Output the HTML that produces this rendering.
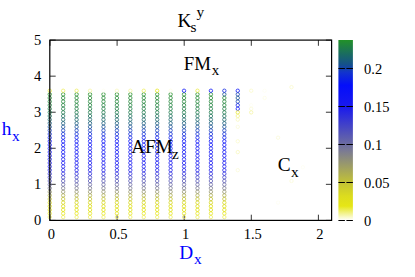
<!DOCTYPE html><html><head><meta charset="utf-8"><style>html,body{margin:0;padding:0;background:#fff}svg{display:block}</style></head><body><svg width="415" height="277" viewBox="0 0 415 277">
<defs><linearGradient id="cb" x1="0" y1="0" x2="0" y2="1"><stop offset="0.0000" stop-color="#229128"/><stop offset="0.1368" stop-color="#14508c"/><stop offset="0.1789" stop-color="#1234cd"/><stop offset="0.2505" stop-color="#040efa"/><stop offset="0.3684" stop-color="#1919ee"/><stop offset="0.6126" stop-color="#7a7a94"/><stop offset="0.7895" stop-color="#c2c236"/><stop offset="0.8653" stop-color="#dcdc1e"/><stop offset="0.9200" stop-color="#e6e616"/><stop offset="1.0000" stop-color="#ffffff"/></linearGradient></defs>
<rect width="415" height="277" fill="#fff"/>
<g stroke="#000" stroke-width="0.8" fill="none">
<path d="M50.00 220.40h5.7 M331.60 220.40h-5.7"/>
<path d="M50.00 184.34h5.7 M331.60 184.34h-5.7"/>
<path d="M50.00 148.28h5.7 M331.60 148.28h-5.7"/>
<path d="M50.00 112.22h5.7 M331.60 112.22h-5.7"/>
<path d="M50.00 76.16h5.7 M331.60 76.16h-5.7"/>
<path d="M50.00 40.10h5.7 M331.60 40.10h-5.7"/>
<path d="M50.00 220.40v-5.7 M50.00 40.10v5.7"/>
<path d="M117.10 220.40v-5.7 M117.10 40.10v5.7"/>
<path d="M184.20 220.40v-5.7 M184.20 40.10v5.7"/>
<path d="M251.30 220.40v-5.7 M251.30 40.10v5.7"/>
<path d="M318.40 220.40v-5.7 M318.40 40.10v5.7"/>
</g>
<g fill="none" stroke-width="0.75">
<circle cx="49.75" cy="217.09" r="1.70" stroke="#eded5e"/>
<circle cx="49.75" cy="213.48" r="1.70" stroke="#e5e51b"/>
<circle cx="49.75" cy="209.87" r="1.70" stroke="#e0e003"/>
<circle cx="49.75" cy="206.26" r="1.70" stroke="#dbdb0d"/>
<circle cx="49.75" cy="202.65" r="1.70" stroke="#d5d517"/>
<circle cx="49.75" cy="199.04" r="1.70" stroke="#c4c42b"/>
<circle cx="49.75" cy="195.43" r="1.70" stroke="#aeae48"/>
<circle cx="49.75" cy="191.82" r="1.70" stroke="#95956b"/>
<circle cx="49.75" cy="188.21" r="1.70" stroke="#7b7b8d"/>
<circle cx="49.75" cy="184.60" r="1.70" stroke="#6868a1"/>
<circle cx="49.75" cy="180.99" r="1.70" stroke="#5555b4"/>
<circle cx="49.75" cy="177.38" r="1.70" stroke="#4242c6"/>
<circle cx="49.75" cy="173.77" r="1.70" stroke="#2f2fd8"/>
<circle cx="49.75" cy="170.16" r="1.70" stroke="#1c1ceb"/>
<circle cx="49.75" cy="166.55" r="1.70" stroke="#1819ee"/>
<circle cx="49.75" cy="162.94" r="1.70" stroke="#1617f0"/>
<circle cx="49.75" cy="159.33" r="1.70" stroke="#1316f1"/>
<circle cx="49.75" cy="155.72" r="1.70" stroke="#1115f3"/>
<circle cx="49.75" cy="152.11" r="1.70" stroke="#0f14f4"/>
<circle cx="49.75" cy="148.50" r="1.70" stroke="#0c12f5"/>
<circle cx="49.75" cy="144.89" r="1.70" stroke="#0910f7"/>
<circle cx="49.75" cy="141.28" r="1.70" stroke="#050efa"/>
<circle cx="49.75" cy="137.67" r="1.70" stroke="#091bea"/>
<circle cx="49.75" cy="134.06" r="1.70" stroke="#0f2bd8"/>
<circle cx="49.75" cy="130.45" r="1.70" stroke="#123bbd"/>
<circle cx="49.75" cy="126.84" r="1.70" stroke="#144d93"/>
<circle cx="49.75" cy="123.23" r="1.70" stroke="#16597c"/>
<circle cx="49.75" cy="119.62" r="1.70" stroke="#176469"/>
<circle cx="49.75" cy="116.01" r="1.70" stroke="#196e59"/>
<circle cx="49.75" cy="112.40" r="1.70" stroke="#1a7749"/>
<circle cx="49.75" cy="108.79" r="1.70" stroke="#1b7b42"/>
<circle cx="49.75" cy="105.18" r="1.70" stroke="#1c7f3b"/>
<circle cx="49.75" cy="101.57" r="1.70" stroke="#1c8334"/>
<circle cx="49.75" cy="97.96" r="1.70" stroke="#1d872d"/>
<circle cx="49.75" cy="94.35" r="1.70" stroke="#1e8b26"/>
<circle cx="49.75" cy="90.74" r="1.70" stroke="#eaea43"/>
<circle cx="63.18" cy="217.09" r="1.70" stroke="#eded5e"/>
<circle cx="63.18" cy="213.48" r="1.70" stroke="#e5e51b"/>
<circle cx="63.18" cy="209.87" r="1.70" stroke="#e0e003"/>
<circle cx="63.18" cy="206.26" r="1.70" stroke="#dbdb0d"/>
<circle cx="63.18" cy="202.65" r="1.70" stroke="#d5d517"/>
<circle cx="63.18" cy="199.04" r="1.70" stroke="#c4c42b"/>
<circle cx="63.18" cy="195.43" r="1.70" stroke="#aeae48"/>
<circle cx="63.18" cy="191.82" r="1.70" stroke="#95956b"/>
<circle cx="63.18" cy="188.21" r="1.70" stroke="#7b7b8d"/>
<circle cx="63.18" cy="184.60" r="1.70" stroke="#6868a1"/>
<circle cx="63.18" cy="180.99" r="1.70" stroke="#5555b4"/>
<circle cx="63.18" cy="177.38" r="1.70" stroke="#4242c6"/>
<circle cx="63.18" cy="173.77" r="1.70" stroke="#2f2fd8"/>
<circle cx="63.18" cy="170.16" r="1.70" stroke="#1c1ceb"/>
<circle cx="63.18" cy="166.55" r="1.70" stroke="#1819ee"/>
<circle cx="63.18" cy="162.94" r="1.70" stroke="#1617f0"/>
<circle cx="63.18" cy="159.33" r="1.70" stroke="#1316f1"/>
<circle cx="63.18" cy="155.72" r="1.70" stroke="#1115f3"/>
<circle cx="63.18" cy="152.11" r="1.70" stroke="#0f14f4"/>
<circle cx="63.18" cy="148.50" r="1.70" stroke="#0c12f5"/>
<circle cx="63.18" cy="144.89" r="1.70" stroke="#0910f7"/>
<circle cx="63.18" cy="141.28" r="1.70" stroke="#050efa"/>
<circle cx="63.18" cy="137.67" r="1.70" stroke="#091bea"/>
<circle cx="63.18" cy="134.06" r="1.70" stroke="#0f2bd8"/>
<circle cx="63.18" cy="130.45" r="1.70" stroke="#123bbd"/>
<circle cx="63.18" cy="126.84" r="1.70" stroke="#144d93"/>
<circle cx="63.18" cy="123.23" r="1.70" stroke="#16597c"/>
<circle cx="63.18" cy="119.62" r="1.70" stroke="#176469"/>
<circle cx="63.18" cy="116.01" r="1.70" stroke="#196e59"/>
<circle cx="63.18" cy="112.40" r="1.70" stroke="#1a7749"/>
<circle cx="63.18" cy="108.79" r="1.70" stroke="#1b7b42"/>
<circle cx="63.18" cy="105.18" r="1.70" stroke="#1c7f3b"/>
<circle cx="63.18" cy="101.57" r="1.70" stroke="#1c8334"/>
<circle cx="63.18" cy="97.96" r="1.70" stroke="#1d872d"/>
<circle cx="63.18" cy="94.35" r="1.70" stroke="#1e8b26"/>
<circle cx="63.18" cy="90.74" r="1.70" stroke="#eded5e"/>
<circle cx="76.61" cy="217.09" r="1.70" stroke="#eded5e"/>
<circle cx="76.61" cy="213.48" r="1.70" stroke="#e5e51b"/>
<circle cx="76.61" cy="209.87" r="1.70" stroke="#e0e003"/>
<circle cx="76.61" cy="206.26" r="1.70" stroke="#dbdb0d"/>
<circle cx="76.61" cy="202.65" r="1.70" stroke="#d5d517"/>
<circle cx="76.61" cy="199.04" r="1.70" stroke="#c4c42b"/>
<circle cx="76.61" cy="195.43" r="1.70" stroke="#aeae48"/>
<circle cx="76.61" cy="191.82" r="1.70" stroke="#95956b"/>
<circle cx="76.61" cy="188.21" r="1.70" stroke="#7b7b8d"/>
<circle cx="76.61" cy="184.60" r="1.70" stroke="#6868a1"/>
<circle cx="76.61" cy="180.99" r="1.70" stroke="#5555b4"/>
<circle cx="76.61" cy="177.38" r="1.70" stroke="#4242c6"/>
<circle cx="76.61" cy="173.77" r="1.70" stroke="#2f2fd8"/>
<circle cx="76.61" cy="170.16" r="1.70" stroke="#1c1ceb"/>
<circle cx="76.61" cy="166.55" r="1.70" stroke="#1819ee"/>
<circle cx="76.61" cy="162.94" r="1.70" stroke="#1617f0"/>
<circle cx="76.61" cy="159.33" r="1.70" stroke="#1316f1"/>
<circle cx="76.61" cy="155.72" r="1.70" stroke="#1115f3"/>
<circle cx="76.61" cy="152.11" r="1.70" stroke="#0f14f4"/>
<circle cx="76.61" cy="148.50" r="1.70" stroke="#0c12f5"/>
<circle cx="76.61" cy="144.89" r="1.70" stroke="#0910f7"/>
<circle cx="76.61" cy="141.28" r="1.70" stroke="#050efa"/>
<circle cx="76.61" cy="137.67" r="1.70" stroke="#091bea"/>
<circle cx="76.61" cy="134.06" r="1.70" stroke="#0f2bd8"/>
<circle cx="76.61" cy="130.45" r="1.70" stroke="#123bbd"/>
<circle cx="76.61" cy="126.84" r="1.70" stroke="#144d93"/>
<circle cx="76.61" cy="123.23" r="1.70" stroke="#16597c"/>
<circle cx="76.61" cy="119.62" r="1.70" stroke="#176469"/>
<circle cx="76.61" cy="116.01" r="1.70" stroke="#196e59"/>
<circle cx="76.61" cy="112.40" r="1.70" stroke="#1a7749"/>
<circle cx="76.61" cy="108.79" r="1.70" stroke="#1b7b42"/>
<circle cx="76.61" cy="105.18" r="1.70" stroke="#1c7f3b"/>
<circle cx="76.61" cy="101.57" r="1.70" stroke="#1c8334"/>
<circle cx="76.61" cy="97.96" r="1.70" stroke="#1d872d"/>
<circle cx="76.61" cy="94.35" r="1.70" stroke="#1e8b26"/>
<circle cx="76.61" cy="90.74" r="1.70" stroke="#eded5e"/>
<circle cx="90.04" cy="217.09" r="1.70" stroke="#eded5e"/>
<circle cx="90.04" cy="213.48" r="1.70" stroke="#e5e51b"/>
<circle cx="90.04" cy="209.87" r="1.70" stroke="#e0e003"/>
<circle cx="90.04" cy="206.26" r="1.70" stroke="#dbdb0d"/>
<circle cx="90.04" cy="202.65" r="1.70" stroke="#d5d517"/>
<circle cx="90.04" cy="199.04" r="1.70" stroke="#c4c42b"/>
<circle cx="90.04" cy="195.43" r="1.70" stroke="#aeae48"/>
<circle cx="90.04" cy="191.82" r="1.70" stroke="#95956b"/>
<circle cx="90.04" cy="188.21" r="1.70" stroke="#7b7b8d"/>
<circle cx="90.04" cy="184.60" r="1.70" stroke="#6868a1"/>
<circle cx="90.04" cy="180.99" r="1.70" stroke="#5555b4"/>
<circle cx="90.04" cy="177.38" r="1.70" stroke="#4242c6"/>
<circle cx="90.04" cy="173.77" r="1.70" stroke="#2f2fd8"/>
<circle cx="90.04" cy="170.16" r="1.70" stroke="#1c1ceb"/>
<circle cx="90.04" cy="166.55" r="1.70" stroke="#1819ee"/>
<circle cx="90.04" cy="162.94" r="1.70" stroke="#1617f0"/>
<circle cx="90.04" cy="159.33" r="1.70" stroke="#1316f1"/>
<circle cx="90.04" cy="155.72" r="1.70" stroke="#1115f3"/>
<circle cx="90.04" cy="152.11" r="1.70" stroke="#0f14f4"/>
<circle cx="90.04" cy="148.50" r="1.70" stroke="#0c12f5"/>
<circle cx="90.04" cy="144.89" r="1.70" stroke="#0910f7"/>
<circle cx="90.04" cy="141.28" r="1.70" stroke="#050efa"/>
<circle cx="90.04" cy="137.67" r="1.70" stroke="#091bea"/>
<circle cx="90.04" cy="134.06" r="1.70" stroke="#0f2bd8"/>
<circle cx="90.04" cy="130.45" r="1.70" stroke="#123bbd"/>
<circle cx="90.04" cy="126.84" r="1.70" stroke="#144d93"/>
<circle cx="90.04" cy="123.23" r="1.70" stroke="#16597c"/>
<circle cx="90.04" cy="119.62" r="1.70" stroke="#176469"/>
<circle cx="90.04" cy="116.01" r="1.70" stroke="#196e59"/>
<circle cx="90.04" cy="112.40" r="1.70" stroke="#1a7749"/>
<circle cx="90.04" cy="108.79" r="1.70" stroke="#1b7b42"/>
<circle cx="90.04" cy="105.18" r="1.70" stroke="#1c7f3b"/>
<circle cx="90.04" cy="101.57" r="1.70" stroke="#1c8334"/>
<circle cx="90.04" cy="97.96" r="1.70" stroke="#1d872d"/>
<circle cx="90.04" cy="94.35" r="1.70" stroke="#1e8b26"/>
<circle cx="90.04" cy="90.74" r="1.70" stroke="#f4f4a1"/>
<circle cx="103.47" cy="217.09" r="1.70" stroke="#eded5e"/>
<circle cx="103.47" cy="213.48" r="1.70" stroke="#e5e51b"/>
<circle cx="103.47" cy="209.87" r="1.70" stroke="#e0e003"/>
<circle cx="103.47" cy="206.26" r="1.70" stroke="#dbdb0d"/>
<circle cx="103.47" cy="202.65" r="1.70" stroke="#d5d517"/>
<circle cx="103.47" cy="199.04" r="1.70" stroke="#c4c42b"/>
<circle cx="103.47" cy="195.43" r="1.70" stroke="#aeae48"/>
<circle cx="103.47" cy="191.82" r="1.70" stroke="#95956b"/>
<circle cx="103.47" cy="188.21" r="1.70" stroke="#7b7b8d"/>
<circle cx="103.47" cy="184.60" r="1.70" stroke="#6868a1"/>
<circle cx="103.47" cy="180.99" r="1.70" stroke="#5555b4"/>
<circle cx="103.47" cy="177.38" r="1.70" stroke="#4242c6"/>
<circle cx="103.47" cy="173.77" r="1.70" stroke="#2f2fd8"/>
<circle cx="103.47" cy="170.16" r="1.70" stroke="#1c1ceb"/>
<circle cx="103.47" cy="166.55" r="1.70" stroke="#1819ee"/>
<circle cx="103.47" cy="162.94" r="1.70" stroke="#1617f0"/>
<circle cx="103.47" cy="159.33" r="1.70" stroke="#1316f1"/>
<circle cx="103.47" cy="155.72" r="1.70" stroke="#1115f3"/>
<circle cx="103.47" cy="152.11" r="1.70" stroke="#0f14f4"/>
<circle cx="103.47" cy="148.50" r="1.70" stroke="#0c12f5"/>
<circle cx="103.47" cy="144.89" r="1.70" stroke="#0910f7"/>
<circle cx="103.47" cy="141.28" r="1.70" stroke="#050efa"/>
<circle cx="103.47" cy="137.67" r="1.70" stroke="#091bea"/>
<circle cx="103.47" cy="134.06" r="1.70" stroke="#0f2bd8"/>
<circle cx="103.47" cy="130.45" r="1.70" stroke="#123bbd"/>
<circle cx="103.47" cy="126.84" r="1.70" stroke="#144d93"/>
<circle cx="103.47" cy="123.23" r="1.70" stroke="#16597c"/>
<circle cx="103.47" cy="119.62" r="1.70" stroke="#176469"/>
<circle cx="103.47" cy="116.01" r="1.70" stroke="#196e59"/>
<circle cx="103.47" cy="112.40" r="1.70" stroke="#1a7749"/>
<circle cx="103.47" cy="108.79" r="1.70" stroke="#1b7b42"/>
<circle cx="103.47" cy="105.18" r="1.70" stroke="#1c7f3b"/>
<circle cx="103.47" cy="101.57" r="1.70" stroke="#1c8334"/>
<circle cx="103.47" cy="97.96" r="1.70" stroke="#1d872d"/>
<circle cx="103.47" cy="94.35" r="1.70" stroke="#1e8b26"/>
<circle cx="103.47" cy="90.74" r="1.70" stroke="#fdfdf2"/>
<circle cx="116.90" cy="217.09" r="1.70" stroke="#eded5e"/>
<circle cx="116.90" cy="213.48" r="1.70" stroke="#e5e51b"/>
<circle cx="116.90" cy="209.87" r="1.70" stroke="#e0e003"/>
<circle cx="116.90" cy="206.26" r="1.70" stroke="#dbdb0d"/>
<circle cx="116.90" cy="202.65" r="1.70" stroke="#d5d517"/>
<circle cx="116.90" cy="199.04" r="1.70" stroke="#c4c42b"/>
<circle cx="116.90" cy="195.43" r="1.70" stroke="#aeae48"/>
<circle cx="116.90" cy="191.82" r="1.70" stroke="#95956b"/>
<circle cx="116.90" cy="188.21" r="1.70" stroke="#7b7b8d"/>
<circle cx="116.90" cy="184.60" r="1.70" stroke="#6868a1"/>
<circle cx="116.90" cy="180.99" r="1.70" stroke="#5555b4"/>
<circle cx="116.90" cy="177.38" r="1.70" stroke="#4242c6"/>
<circle cx="116.90" cy="173.77" r="1.70" stroke="#2f2fd8"/>
<circle cx="116.90" cy="170.16" r="1.70" stroke="#1c1ceb"/>
<circle cx="116.90" cy="166.55" r="1.70" stroke="#1819ee"/>
<circle cx="116.90" cy="162.94" r="1.70" stroke="#1617f0"/>
<circle cx="116.90" cy="159.33" r="1.70" stroke="#1316f1"/>
<circle cx="116.90" cy="155.72" r="1.70" stroke="#1115f3"/>
<circle cx="116.90" cy="152.11" r="1.70" stroke="#0f14f4"/>
<circle cx="116.90" cy="148.50" r="1.70" stroke="#0c12f5"/>
<circle cx="116.90" cy="144.89" r="1.70" stroke="#0910f7"/>
<circle cx="116.90" cy="141.28" r="1.70" stroke="#050efa"/>
<circle cx="116.90" cy="137.67" r="1.70" stroke="#091bea"/>
<circle cx="116.90" cy="134.06" r="1.70" stroke="#0f2bd8"/>
<circle cx="116.90" cy="130.45" r="1.70" stroke="#123bbd"/>
<circle cx="116.90" cy="126.84" r="1.70" stroke="#144d93"/>
<circle cx="116.90" cy="123.23" r="1.70" stroke="#16597c"/>
<circle cx="116.90" cy="119.62" r="1.70" stroke="#176469"/>
<circle cx="116.90" cy="116.01" r="1.70" stroke="#196e59"/>
<circle cx="116.90" cy="112.40" r="1.70" stroke="#1a7749"/>
<circle cx="116.90" cy="108.79" r="1.70" stroke="#1b7b42"/>
<circle cx="116.90" cy="105.18" r="1.70" stroke="#1c7f3b"/>
<circle cx="116.90" cy="101.57" r="1.70" stroke="#1c8334"/>
<circle cx="116.90" cy="97.96" r="1.70" stroke="#1d872d"/>
<circle cx="116.90" cy="94.35" r="1.70" stroke="#1e8b26"/>
<circle cx="116.90" cy="90.74" r="1.70" stroke="#f7f7bc"/>
<circle cx="130.33" cy="217.09" r="1.70" stroke="#eded5e"/>
<circle cx="130.33" cy="213.48" r="1.70" stroke="#e5e51b"/>
<circle cx="130.33" cy="209.87" r="1.70" stroke="#e0e003"/>
<circle cx="130.33" cy="206.26" r="1.70" stroke="#dbdb0d"/>
<circle cx="130.33" cy="202.65" r="1.70" stroke="#d5d517"/>
<circle cx="130.33" cy="199.04" r="1.70" stroke="#c4c42b"/>
<circle cx="130.33" cy="195.43" r="1.70" stroke="#aeae48"/>
<circle cx="130.33" cy="191.82" r="1.70" stroke="#95956b"/>
<circle cx="130.33" cy="188.21" r="1.70" stroke="#7b7b8d"/>
<circle cx="130.33" cy="184.60" r="1.70" stroke="#6868a1"/>
<circle cx="130.33" cy="180.99" r="1.70" stroke="#5555b4"/>
<circle cx="130.33" cy="177.38" r="1.70" stroke="#4242c6"/>
<circle cx="130.33" cy="173.77" r="1.70" stroke="#2f2fd8"/>
<circle cx="130.33" cy="170.16" r="1.70" stroke="#1c1ceb"/>
<circle cx="130.33" cy="166.55" r="1.70" stroke="#1819ee"/>
<circle cx="130.33" cy="162.94" r="1.70" stroke="#1617f0"/>
<circle cx="130.33" cy="159.33" r="1.70" stroke="#1316f1"/>
<circle cx="130.33" cy="155.72" r="1.70" stroke="#1115f3"/>
<circle cx="130.33" cy="152.11" r="1.70" stroke="#0f14f4"/>
<circle cx="130.33" cy="148.50" r="1.70" stroke="#0c12f5"/>
<circle cx="130.33" cy="144.89" r="1.70" stroke="#0910f7"/>
<circle cx="130.33" cy="141.28" r="1.70" stroke="#050efa"/>
<circle cx="130.33" cy="137.67" r="1.70" stroke="#091bea"/>
<circle cx="130.33" cy="134.06" r="1.70" stroke="#0f2bd8"/>
<circle cx="130.33" cy="130.45" r="1.70" stroke="#123bbd"/>
<circle cx="130.33" cy="126.84" r="1.70" stroke="#144d93"/>
<circle cx="130.33" cy="123.23" r="1.70" stroke="#16597c"/>
<circle cx="130.33" cy="119.62" r="1.70" stroke="#176469"/>
<circle cx="130.33" cy="116.01" r="1.70" stroke="#196e59"/>
<circle cx="130.33" cy="112.40" r="1.70" stroke="#1a7749"/>
<circle cx="130.33" cy="108.79" r="1.70" stroke="#1b7b42"/>
<circle cx="130.33" cy="105.18" r="1.70" stroke="#1c7f3b"/>
<circle cx="130.33" cy="101.57" r="1.70" stroke="#1c8334"/>
<circle cx="130.33" cy="97.96" r="1.70" stroke="#1d872d"/>
<circle cx="130.33" cy="94.35" r="1.70" stroke="#1e8b26"/>
<circle cx="130.33" cy="90.74" r="1.70" stroke="#f4f4a1"/>
<circle cx="143.76" cy="217.09" r="1.70" stroke="#eded5e"/>
<circle cx="143.76" cy="213.48" r="1.70" stroke="#e5e51b"/>
<circle cx="143.76" cy="209.87" r="1.70" stroke="#e0e003"/>
<circle cx="143.76" cy="206.26" r="1.70" stroke="#dbdb0d"/>
<circle cx="143.76" cy="202.65" r="1.70" stroke="#d5d517"/>
<circle cx="143.76" cy="199.04" r="1.70" stroke="#c4c42b"/>
<circle cx="143.76" cy="195.43" r="1.70" stroke="#aeae48"/>
<circle cx="143.76" cy="191.82" r="1.70" stroke="#95956b"/>
<circle cx="143.76" cy="188.21" r="1.70" stroke="#7b7b8d"/>
<circle cx="143.76" cy="184.60" r="1.70" stroke="#6868a1"/>
<circle cx="143.76" cy="180.99" r="1.70" stroke="#5555b4"/>
<circle cx="143.76" cy="177.38" r="1.70" stroke="#4242c6"/>
<circle cx="143.76" cy="173.77" r="1.70" stroke="#2f2fd8"/>
<circle cx="143.76" cy="170.16" r="1.70" stroke="#1c1ceb"/>
<circle cx="143.76" cy="166.55" r="1.70" stroke="#1819ee"/>
<circle cx="143.76" cy="162.94" r="1.70" stroke="#1617f0"/>
<circle cx="143.76" cy="159.33" r="1.70" stroke="#1316f1"/>
<circle cx="143.76" cy="155.72" r="1.70" stroke="#1115f3"/>
<circle cx="143.76" cy="152.11" r="1.70" stroke="#0f14f4"/>
<circle cx="143.76" cy="148.50" r="1.70" stroke="#0c12f5"/>
<circle cx="143.76" cy="144.89" r="1.70" stroke="#0910f7"/>
<circle cx="143.76" cy="141.28" r="1.70" stroke="#050efa"/>
<circle cx="143.76" cy="137.67" r="1.70" stroke="#091bea"/>
<circle cx="143.76" cy="134.06" r="1.70" stroke="#0f2bd8"/>
<circle cx="143.76" cy="130.45" r="1.70" stroke="#123bbd"/>
<circle cx="143.76" cy="126.84" r="1.70" stroke="#144d93"/>
<circle cx="143.76" cy="123.23" r="1.70" stroke="#16597c"/>
<circle cx="143.76" cy="119.62" r="1.70" stroke="#176469"/>
<circle cx="143.76" cy="116.01" r="1.70" stroke="#196e59"/>
<circle cx="143.76" cy="112.40" r="1.70" stroke="#1a7749"/>
<circle cx="143.76" cy="108.79" r="1.70" stroke="#1b7b42"/>
<circle cx="143.76" cy="105.18" r="1.70" stroke="#1c7f3b"/>
<circle cx="143.76" cy="101.57" r="1.70" stroke="#1c8334"/>
<circle cx="143.76" cy="97.96" r="1.70" stroke="#1d872d"/>
<circle cx="143.76" cy="94.35" r="1.70" stroke="#1e8b26"/>
<circle cx="143.76" cy="90.74" r="1.70" stroke="#eded5e"/>
<circle cx="157.19" cy="217.09" r="1.70" stroke="#eded5e"/>
<circle cx="157.19" cy="213.48" r="1.70" stroke="#e5e51b"/>
<circle cx="157.19" cy="209.87" r="1.70" stroke="#e0e003"/>
<circle cx="157.19" cy="206.26" r="1.70" stroke="#dbdb0d"/>
<circle cx="157.19" cy="202.65" r="1.70" stroke="#d5d517"/>
<circle cx="157.19" cy="199.04" r="1.70" stroke="#c4c42b"/>
<circle cx="157.19" cy="195.43" r="1.70" stroke="#aeae48"/>
<circle cx="157.19" cy="191.82" r="1.70" stroke="#95956b"/>
<circle cx="157.19" cy="188.21" r="1.70" stroke="#7b7b8d"/>
<circle cx="157.19" cy="184.60" r="1.70" stroke="#6868a1"/>
<circle cx="157.19" cy="180.99" r="1.70" stroke="#5555b4"/>
<circle cx="157.19" cy="177.38" r="1.70" stroke="#4242c6"/>
<circle cx="157.19" cy="173.77" r="1.70" stroke="#2f2fd8"/>
<circle cx="157.19" cy="170.16" r="1.70" stroke="#1c1ceb"/>
<circle cx="157.19" cy="166.55" r="1.70" stroke="#1819ee"/>
<circle cx="157.19" cy="162.94" r="1.70" stroke="#1617f0"/>
<circle cx="157.19" cy="159.33" r="1.70" stroke="#1316f1"/>
<circle cx="157.19" cy="155.72" r="1.70" stroke="#1115f3"/>
<circle cx="157.19" cy="152.11" r="1.70" stroke="#0f14f4"/>
<circle cx="157.19" cy="148.50" r="1.70" stroke="#0c12f5"/>
<circle cx="157.19" cy="144.89" r="1.70" stroke="#0910f7"/>
<circle cx="157.19" cy="141.28" r="1.70" stroke="#050efa"/>
<circle cx="157.19" cy="137.67" r="1.70" stroke="#091bea"/>
<circle cx="157.19" cy="134.06" r="1.70" stroke="#0f2bd8"/>
<circle cx="157.19" cy="130.45" r="1.70" stroke="#123bbd"/>
<circle cx="157.19" cy="126.84" r="1.70" stroke="#144d93"/>
<circle cx="157.19" cy="123.23" r="1.70" stroke="#16597c"/>
<circle cx="157.19" cy="119.62" r="1.70" stroke="#176469"/>
<circle cx="157.19" cy="116.01" r="1.70" stroke="#196e59"/>
<circle cx="157.19" cy="112.40" r="1.70" stroke="#1a7749"/>
<circle cx="157.19" cy="108.79" r="1.70" stroke="#1b7b42"/>
<circle cx="157.19" cy="105.18" r="1.70" stroke="#1c7f3b"/>
<circle cx="157.19" cy="101.57" r="1.70" stroke="#1c8334"/>
<circle cx="157.19" cy="97.96" r="1.70" stroke="#1d872d"/>
<circle cx="157.19" cy="94.35" r="1.70" stroke="#1e8b26"/>
<circle cx="157.19" cy="90.74" r="1.70" stroke="#e5e51b"/>
<circle cx="170.62" cy="217.09" r="1.70" stroke="#eded5e"/>
<circle cx="170.62" cy="213.48" r="1.70" stroke="#e5e51b"/>
<circle cx="170.62" cy="209.87" r="1.70" stroke="#e0e003"/>
<circle cx="170.62" cy="206.26" r="1.70" stroke="#dbdb0d"/>
<circle cx="170.62" cy="202.65" r="1.70" stroke="#d5d517"/>
<circle cx="170.62" cy="199.04" r="1.70" stroke="#c4c42b"/>
<circle cx="170.62" cy="195.43" r="1.70" stroke="#aeae48"/>
<circle cx="170.62" cy="191.82" r="1.70" stroke="#95956b"/>
<circle cx="170.62" cy="188.21" r="1.70" stroke="#7b7b8d"/>
<circle cx="170.62" cy="184.60" r="1.70" stroke="#6868a1"/>
<circle cx="170.62" cy="180.99" r="1.70" stroke="#5555b4"/>
<circle cx="170.62" cy="177.38" r="1.70" stroke="#4242c6"/>
<circle cx="170.62" cy="173.77" r="1.70" stroke="#2f2fd8"/>
<circle cx="170.62" cy="170.16" r="1.70" stroke="#1c1ceb"/>
<circle cx="170.62" cy="166.55" r="1.70" stroke="#1819ee"/>
<circle cx="170.62" cy="162.94" r="1.70" stroke="#1617f0"/>
<circle cx="170.62" cy="159.33" r="1.70" stroke="#1316f1"/>
<circle cx="170.62" cy="155.72" r="1.70" stroke="#1115f3"/>
<circle cx="170.62" cy="152.11" r="1.70" stroke="#0f14f4"/>
<circle cx="170.62" cy="148.50" r="1.70" stroke="#0c12f5"/>
<circle cx="170.62" cy="144.89" r="1.70" stroke="#0910f7"/>
<circle cx="170.62" cy="141.28" r="1.70" stroke="#050efa"/>
<circle cx="170.62" cy="137.67" r="1.70" stroke="#091bea"/>
<circle cx="170.62" cy="134.06" r="1.70" stroke="#0f2bd8"/>
<circle cx="170.62" cy="130.45" r="1.70" stroke="#123bbd"/>
<circle cx="170.62" cy="126.84" r="1.70" stroke="#144d93"/>
<circle cx="170.62" cy="123.23" r="1.70" stroke="#16597c"/>
<circle cx="170.62" cy="119.62" r="1.70" stroke="#176469"/>
<circle cx="170.62" cy="116.01" r="1.70" stroke="#196e59"/>
<circle cx="170.62" cy="112.40" r="1.70" stroke="#1a7749"/>
<circle cx="170.62" cy="108.79" r="1.70" stroke="#1b7b42"/>
<circle cx="170.62" cy="105.18" r="1.70" stroke="#1c7f3b"/>
<circle cx="170.62" cy="101.57" r="1.70" stroke="#1c8334"/>
<circle cx="170.62" cy="97.96" r="1.70" stroke="#1d872d"/>
<circle cx="170.62" cy="94.35" r="1.70" stroke="#1e8b26"/>
<circle cx="170.62" cy="90.74" r="1.70" stroke="#fcfce4"/>
<circle cx="184.05" cy="217.09" r="1.70" stroke="#eded5e"/>
<circle cx="184.05" cy="213.48" r="1.70" stroke="#e5e51b"/>
<circle cx="184.05" cy="209.87" r="1.70" stroke="#e0e003"/>
<circle cx="184.05" cy="206.26" r="1.70" stroke="#dbdb0d"/>
<circle cx="184.05" cy="202.65" r="1.70" stroke="#d5d517"/>
<circle cx="184.05" cy="199.04" r="1.70" stroke="#c4c42b"/>
<circle cx="184.05" cy="195.43" r="1.70" stroke="#aeae48"/>
<circle cx="184.05" cy="191.82" r="1.70" stroke="#95956b"/>
<circle cx="184.05" cy="188.21" r="1.70" stroke="#7b7b8d"/>
<circle cx="184.05" cy="184.60" r="1.70" stroke="#6868a1"/>
<circle cx="184.05" cy="180.99" r="1.70" stroke="#5555b4"/>
<circle cx="184.05" cy="177.38" r="1.70" stroke="#4242c6"/>
<circle cx="184.05" cy="173.77" r="1.70" stroke="#2f2fd8"/>
<circle cx="184.05" cy="170.16" r="1.70" stroke="#1c1ceb"/>
<circle cx="184.05" cy="166.55" r="1.70" stroke="#1819ee"/>
<circle cx="184.05" cy="162.94" r="1.70" stroke="#1617f0"/>
<circle cx="184.05" cy="159.33" r="1.70" stroke="#1316f1"/>
<circle cx="184.05" cy="155.72" r="1.70" stroke="#1115f3"/>
<circle cx="184.05" cy="152.11" r="1.70" stroke="#0f14f4"/>
<circle cx="184.05" cy="148.50" r="1.70" stroke="#0c12f5"/>
<circle cx="184.05" cy="144.89" r="1.70" stroke="#0910f7"/>
<circle cx="184.05" cy="141.28" r="1.70" stroke="#050efa"/>
<circle cx="184.05" cy="137.67" r="1.70" stroke="#091bea"/>
<circle cx="184.05" cy="134.06" r="1.70" stroke="#0f2bd8"/>
<circle cx="184.05" cy="130.45" r="1.70" stroke="#123bbd"/>
<circle cx="184.05" cy="126.84" r="1.70" stroke="#144d93"/>
<circle cx="184.05" cy="123.23" r="1.70" stroke="#16597c"/>
<circle cx="184.05" cy="119.62" r="1.70" stroke="#176469"/>
<circle cx="184.05" cy="116.01" r="1.70" stroke="#196e59"/>
<circle cx="184.05" cy="112.40" r="1.70" stroke="#1a7749"/>
<circle cx="184.05" cy="108.79" r="1.70" stroke="#1b7b42"/>
<circle cx="184.05" cy="105.18" r="1.70" stroke="#1c7f3b"/>
<circle cx="184.05" cy="101.57" r="1.70" stroke="#1c8334"/>
<circle cx="184.05" cy="97.96" r="1.70" stroke="#1d872d"/>
<circle cx="184.05" cy="94.35" r="1.70" stroke="#1e8b26"/>
<circle cx="184.05" cy="90.74" r="1.70" stroke="#0a11f7"/>
<circle cx="197.48" cy="217.09" r="1.70" stroke="#eded5e"/>
<circle cx="197.48" cy="213.48" r="1.70" stroke="#e5e51b"/>
<circle cx="197.48" cy="209.87" r="1.70" stroke="#e0e003"/>
<circle cx="197.48" cy="206.26" r="1.70" stroke="#dbdb0d"/>
<circle cx="197.48" cy="202.65" r="1.70" stroke="#d5d517"/>
<circle cx="197.48" cy="199.04" r="1.70" stroke="#c4c42b"/>
<circle cx="197.48" cy="195.43" r="1.70" stroke="#aeae48"/>
<circle cx="197.48" cy="191.82" r="1.70" stroke="#95956b"/>
<circle cx="197.48" cy="188.21" r="1.70" stroke="#7b7b8d"/>
<circle cx="197.48" cy="184.60" r="1.70" stroke="#6868a1"/>
<circle cx="197.48" cy="180.99" r="1.70" stroke="#5555b4"/>
<circle cx="197.48" cy="177.38" r="1.70" stroke="#4242c6"/>
<circle cx="197.48" cy="173.77" r="1.70" stroke="#2f2fd8"/>
<circle cx="197.48" cy="170.16" r="1.70" stroke="#1c1ceb"/>
<circle cx="197.48" cy="166.55" r="1.70" stroke="#1819ee"/>
<circle cx="197.48" cy="162.94" r="1.70" stroke="#1617f0"/>
<circle cx="197.48" cy="159.33" r="1.70" stroke="#1316f1"/>
<circle cx="197.48" cy="155.72" r="1.70" stroke="#1115f3"/>
<circle cx="197.48" cy="152.11" r="1.70" stroke="#0f14f4"/>
<circle cx="197.48" cy="148.50" r="1.70" stroke="#0c12f5"/>
<circle cx="197.48" cy="144.89" r="1.70" stroke="#0910f7"/>
<circle cx="197.48" cy="141.28" r="1.70" stroke="#050efa"/>
<circle cx="197.48" cy="137.67" r="1.70" stroke="#091bea"/>
<circle cx="197.48" cy="134.06" r="1.70" stroke="#0f2bd8"/>
<circle cx="197.48" cy="130.45" r="1.70" stroke="#123bbd"/>
<circle cx="197.48" cy="126.84" r="1.70" stroke="#144d93"/>
<circle cx="197.48" cy="123.23" r="1.70" stroke="#16597c"/>
<circle cx="197.48" cy="119.62" r="1.70" stroke="#176469"/>
<circle cx="197.48" cy="116.01" r="1.70" stroke="#196e59"/>
<circle cx="197.48" cy="112.40" r="1.70" stroke="#1a7749"/>
<circle cx="197.48" cy="108.79" r="1.70" stroke="#1b7b42"/>
<circle cx="197.48" cy="105.18" r="1.70" stroke="#1c7f3b"/>
<circle cx="197.48" cy="101.57" r="1.70" stroke="#1c8334"/>
<circle cx="197.48" cy="97.96" r="1.70" stroke="#1d872d"/>
<circle cx="197.48" cy="94.35" r="1.70" stroke="#1e8b26"/>
<circle cx="197.48" cy="90.74" r="1.70" stroke="#eaea43"/>
<circle cx="210.91" cy="217.09" r="1.70" stroke="#eded5e"/>
<circle cx="210.91" cy="213.48" r="1.70" stroke="#e5e51b"/>
<circle cx="210.91" cy="209.87" r="1.70" stroke="#e0e003"/>
<circle cx="210.91" cy="206.26" r="1.70" stroke="#dbdb0d"/>
<circle cx="210.91" cy="202.65" r="1.70" stroke="#d5d517"/>
<circle cx="210.91" cy="199.04" r="1.70" stroke="#c4c42b"/>
<circle cx="210.91" cy="195.43" r="1.70" stroke="#aeae48"/>
<circle cx="210.91" cy="191.82" r="1.70" stroke="#95956b"/>
<circle cx="210.91" cy="188.21" r="1.70" stroke="#7b7b8d"/>
<circle cx="210.91" cy="184.60" r="1.70" stroke="#6868a1"/>
<circle cx="210.91" cy="180.99" r="1.70" stroke="#5555b4"/>
<circle cx="210.91" cy="177.38" r="1.70" stroke="#4242c6"/>
<circle cx="210.91" cy="173.77" r="1.70" stroke="#2f2fd8"/>
<circle cx="210.91" cy="170.16" r="1.70" stroke="#1c1ceb"/>
<circle cx="210.91" cy="166.55" r="1.70" stroke="#1819ee"/>
<circle cx="210.91" cy="162.94" r="1.70" stroke="#1617f0"/>
<circle cx="210.91" cy="159.33" r="1.70" stroke="#1316f1"/>
<circle cx="210.91" cy="155.72" r="1.70" stroke="#1115f3"/>
<circle cx="210.91" cy="152.11" r="1.70" stroke="#0f14f4"/>
<circle cx="210.91" cy="148.50" r="1.70" stroke="#0c12f5"/>
<circle cx="210.91" cy="144.89" r="1.70" stroke="#0910f7"/>
<circle cx="210.91" cy="141.28" r="1.70" stroke="#050efa"/>
<circle cx="210.91" cy="137.67" r="1.70" stroke="#091bea"/>
<circle cx="210.91" cy="134.06" r="1.70" stroke="#0f2bd8"/>
<circle cx="210.91" cy="130.45" r="1.70" stroke="#123bbd"/>
<circle cx="210.91" cy="126.84" r="1.70" stroke="#144d93"/>
<circle cx="210.91" cy="123.23" r="1.70" stroke="#16597c"/>
<circle cx="210.91" cy="119.62" r="1.70" stroke="#176469"/>
<circle cx="210.91" cy="116.01" r="1.70" stroke="#196e59"/>
<circle cx="210.91" cy="112.40" r="1.70" stroke="#1a7749"/>
<circle cx="210.91" cy="108.79" r="1.70" stroke="#1b7b42"/>
<circle cx="210.91" cy="105.18" r="1.70" stroke="#1c7f3b"/>
<circle cx="210.91" cy="101.57" r="1.70" stroke="#1c8334"/>
<circle cx="210.91" cy="97.96" r="1.70" stroke="#1d872d"/>
<circle cx="210.91" cy="94.35" r="1.70" stroke="#1e8b26"/>
<circle cx="210.91" cy="90.74" r="1.70" stroke="#0a11f7"/>
<circle cx="224.34" cy="217.09" r="1.70" stroke="#eded5e"/>
<circle cx="224.34" cy="213.48" r="1.70" stroke="#e5e51b"/>
<circle cx="224.34" cy="209.87" r="1.70" stroke="#e0e003"/>
<circle cx="224.34" cy="206.26" r="1.70" stroke="#dbdb0d"/>
<circle cx="224.34" cy="202.65" r="1.70" stroke="#d5d517"/>
<circle cx="224.34" cy="199.04" r="1.70" stroke="#c4c42b"/>
<circle cx="224.34" cy="195.43" r="1.70" stroke="#aeae48"/>
<circle cx="224.34" cy="191.82" r="1.70" stroke="#95956b"/>
<circle cx="224.34" cy="188.21" r="1.70" stroke="#7b7b8d"/>
<circle cx="224.34" cy="184.60" r="1.70" stroke="#6868a1"/>
<circle cx="224.34" cy="180.99" r="1.70" stroke="#5555b4"/>
<circle cx="224.34" cy="177.38" r="1.70" stroke="#4242c6"/>
<circle cx="224.34" cy="173.77" r="1.70" stroke="#2f2fd8"/>
<circle cx="224.34" cy="170.16" r="1.70" stroke="#1c1ceb"/>
<circle cx="224.34" cy="166.55" r="1.70" stroke="#1819ee"/>
<circle cx="224.34" cy="162.94" r="1.70" stroke="#1617f0"/>
<circle cx="224.34" cy="159.33" r="1.70" stroke="#1316f1"/>
<circle cx="224.34" cy="155.72" r="1.70" stroke="#1115f3"/>
<circle cx="224.34" cy="152.11" r="1.70" stroke="#0f14f4"/>
<circle cx="224.34" cy="148.50" r="1.70" stroke="#0c12f5"/>
<circle cx="224.34" cy="144.89" r="1.70" stroke="#0910f7"/>
<circle cx="224.34" cy="141.28" r="1.70" stroke="#050efa"/>
<circle cx="224.34" cy="137.67" r="1.70" stroke="#091bea"/>
<circle cx="224.34" cy="134.06" r="1.70" stroke="#0f2bd8"/>
<circle cx="224.34" cy="130.45" r="1.70" stroke="#123bbd"/>
<circle cx="224.34" cy="126.84" r="1.70" stroke="#144d93"/>
<circle cx="224.34" cy="123.23" r="1.70" stroke="#16597c"/>
<circle cx="224.34" cy="119.62" r="1.70" stroke="#176469"/>
<circle cx="224.34" cy="116.01" r="1.70" stroke="#196e59"/>
<circle cx="224.34" cy="112.40" r="1.70" stroke="#1a7749"/>
<circle cx="224.34" cy="108.79" r="1.70" stroke="#1b7b42"/>
<circle cx="224.34" cy="105.18" r="1.70" stroke="#1c7f3b"/>
<circle cx="224.34" cy="101.57" r="1.70" stroke="#1c8334"/>
<circle cx="224.34" cy="97.96" r="1.70" stroke="#1d872d"/>
<circle cx="224.34" cy="94.35" r="1.70" stroke="#155486"/>
<circle cx="224.34" cy="90.74" r="1.70" stroke="#0c24e0"/>
<circle cx="237.77" cy="90.74" r="1.70" stroke="#060ff9"/>
<circle cx="237.77" cy="94.35" r="1.70" stroke="#1342ac"/>
<circle cx="237.77" cy="97.96" r="1.70" stroke="#14508c"/>
<circle cx="237.77" cy="101.57" r="1.70" stroke="#1342ac"/>
<circle cx="237.77" cy="105.18" r="1.70" stroke="#0a1ee7"/>
<circle cx="237.77" cy="108.79" r="1.70" stroke="#0a11f7"/>
<circle cx="237.77" cy="112.40" r="1.70" stroke="#e7e728"/>
<circle cx="237.77" cy="116.01" r="1.70" stroke="#f1f186"/>
<circle cx="237.77" cy="119.62" r="1.70" stroke="#f7f7bc"/>
<circle cx="237.77" cy="126.84" r="1.70" stroke="#fafad7"/>
<circle cx="237.77" cy="141.28" r="1.70" stroke="#f9f9c9"/>
<circle cx="237.77" cy="152.11" r="1.70" stroke="#f7f7bc"/>
<circle cx="237.77" cy="170.16" r="1.70" stroke="#fafad7"/>
<circle cx="251.20" cy="90.74" r="1.70" stroke="#f9f9c9"/>
<circle cx="251.20" cy="105.18" r="1.70" stroke="#fdfdf2"/>
<circle cx="251.20" cy="108.79" r="1.70" stroke="#fafad7"/>
<circle cx="251.20" cy="112.40" r="1.70" stroke="#f4f4a1"/>
<circle cx="264.63" cy="90.74" r="1.70" stroke="#fdfdf2"/>
<circle cx="264.63" cy="97.96" r="1.70" stroke="#fcfce4"/>
<circle cx="291.49" cy="87.13" r="1.70" stroke="#f9f9c9"/>
<circle cx="278.06" cy="137.67" r="1.70" stroke="#fafad7"/>
<circle cx="291.49" cy="180.99" r="1.70" stroke="#fafad7"/>
<circle cx="302.91" cy="167.27" r="1.70" stroke="#fdfdf2"/>
<circle cx="278.06" cy="202.65" r="1.70" stroke="#fdfdf2"/>
</g>
<rect x="49.80" y="40.10" width="281.80" height="180.30" stroke="#000" stroke-width="1.2" fill="none"/>
<rect x="338.40" y="40.00" width="14.50" height="180.50" fill="url(#cb)"/>
<g stroke="#000" stroke-width="1" stroke-dasharray="6.5 1.5">
<path d="M338.40 220.50H352.90"/>
<path d="M338.40 182.50H352.90"/>
<path d="M338.40 144.50H352.90"/>
<path d="M338.40 106.50H352.90"/>
<path d="M338.40 68.50H352.90"/>
</g>
<g font-family="Liberation Serif, serif" fill="#000">
<text x="41.3" y="225.35" font-size="14.5" text-anchor="end">0</text>
<text x="41.3" y="189.29" font-size="14.5" text-anchor="end">1</text>
<text x="41.3" y="153.23" font-size="14.5" text-anchor="end">2</text>
<text x="41.3" y="117.17" font-size="14.5" text-anchor="end">3</text>
<text x="41.3" y="81.11" font-size="14.5" text-anchor="end">4</text>
<text x="41.3" y="45.05" font-size="14.5" text-anchor="end">5</text>
<text x="51.40" y="239.3" font-size="14.5" text-anchor="middle">0</text>
<text x="118.50" y="239.3" font-size="14.5" text-anchor="middle">0.5</text>
<text x="185.60" y="239.3" font-size="14.5" text-anchor="middle">1</text>
<text x="252.70" y="239.3" font-size="14.5" text-anchor="middle">1.5</text>
<text x="319.80" y="239.3" font-size="14.5" text-anchor="middle">2</text>
<text x="364" y="225.60" font-size="14.5">0</text>
<text x="364" y="187.60" font-size="14.5">0.05</text>
<text x="364" y="149.60" font-size="14.5">0.1</text>
<text x="364" y="111.60" font-size="14.5">0.15</text>
<text x="364" y="73.60" font-size="14.5">0.2</text>
<text transform="translate(177.40 27.30) scale(1.000 1)" font-size="19.3" fill="#000">K</text>
<text transform="translate(190.60 31.95) scale(1.000 1)" font-size="15.4" fill="#000">s</text>
<text transform="translate(196.40 16.95) scale(1.000 1)" font-size="15.4" fill="#000">y</text>
<text transform="translate(183.80 70.40) scale(0.975 1)" font-size="19.3" fill="#000">FM</text>
<text transform="translate(211.70 75.30) scale(0.975 1)" font-size="15.4" fill="#000">x</text>
<text transform="translate(131.30 152.80) scale(0.990 1)" font-size="19.3" fill="#000">AFM</text>
<text transform="translate(171.90 158.50) scale(0.990 1)" font-size="15.4" fill="#000">z</text>
<text transform="translate(277.80 171.00) scale(1.000 1)" font-size="19.3" fill="#000">C</text>
<text transform="translate(291.00 176.80) scale(1.000 1)" font-size="15.4" fill="#000">x</text>
<text transform="translate(1.80 135.10) scale(1.000 1)" font-size="19.3" fill="#0000ff">h</text>
<text transform="translate(12.10 140.70) scale(1.000 1)" font-size="15.4" fill="#0000ff">x</text>
<text transform="translate(179.20 259.00) scale(1.000 1)" font-size="19.3" fill="#0000ff">D</text>
<text transform="translate(193.90 264.30) scale(1.000 1)" font-size="15.4" fill="#0000ff">x</text>
</g>
</svg></body></html>
